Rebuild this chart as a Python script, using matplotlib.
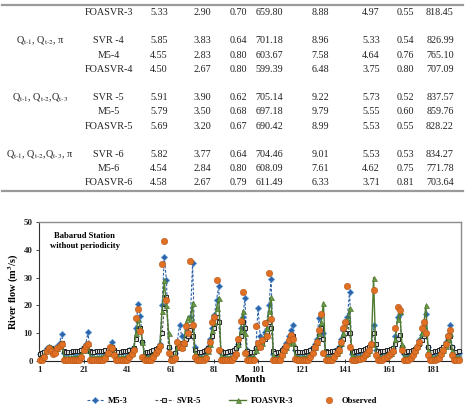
import numpy as np
import matplotlib
matplotlib.use("Agg")
import matplotlib.pyplot as plt
from matplotlib.lines import Line2D

plt.rcParams['font.family'] = ['Liberation Serif', 'DejaVu Serif']
plt.rcParams['mathtext.fontset'] = 'stix'

# ---- table (top part of the page) ----
group_labels = [r"Q$_{\text{t-1}}$, Q$_{\text{t-2}}$, π",
                r"Q$_{\text{t-1}}$, Q$_{\text{t-2}}$,Q$_{\text{t-3}}$",
                r"Q$_{\text{t-1}}$, Q$_{\text{t-2}}$,Q$_{\text{t-3}}$, π"]
model_names = ["FOASVR-3",
               "SVR -4", "M5-4", "FOASVR-4",
               "SVR -5", "M5-5", "FOASVR-5",
               "SVR -6", "M5-6", "FOASVR-6"]
table_values = [
    ["5.33", "2.90", "0.70", "659.80", "8.88", "4.97", "0.55", "818.45"],
    ["5.85", "3.83", "0.64", "701.18", "8.96", "5.33", "0.54", "826.99"],
    ["4.55", "2.83", "0.80", "603.67", "7.58", "4.64", "0.76", "765.10"],
    ["4.50", "2.67", "0.80", "599.39", "6.48", "3.75", "0.80", "707.09"],
    ["5.91", "3.90", "0.62", "705.14", "9.22", "5.73", "0.52", "837.57"],
    ["5.79", "3.50", "0.68", "697.18", "9.79", "5.55", "0.60", "859.76"],
    ["5.69", "3.20", "0.67", "690.42", "8.99", "5.53", "0.55", "828.22"],
    ["5.82", "3.77", "0.64", "704.46", "9.01", "5.53", "0.53", "834.27"],
    ["4.54", "2.84", "0.80", "608.09", "7.61", "4.62", "0.75", "771.78"],
    ["4.58", "2.67", "0.79", "611.49", "6.33", "3.71", "0.81", "703.64"],
]

# ---- monthly river flow, Babarud station ----
observed = [
    0.3, 0.5, 1.5, 3.5, 4.5, 3.5, 2.5, 3.0, 4.5, 5.5, 6.0, 0.4,
    0.2, 0.2, 0.3, 0.2, 0.2, 0.3, 0.5, 1.5, 4.0, 5.5, 6.0, 0.4,
    0.2, 0.2, 0.3, 0.2, 0.3, 0.4, 1.0, 3.0, 5.0, 4.5, 2.0, 0.3,
    0.2, 0.2, 0.3, 0.3, 0.5, 1.5, 2.5, 4.0, 15.3, 18.8, 10.8, 1.5,
    0.3, 0.2, 0.3, 0.5, 1.5, 3.0, 4.0, 5.5, 35.0, 43.0, 22.0, 3.0,
    0.3, 0.5, 1.0, 7.0, 5.0, 4.5, 6.5, 12.5, 10.0, 35.8, 13.0, 1.5,
    0.3, 0.2, 0.3, 0.4, 1.0, 4.0, 7.0, 14.0, 16.0, 29.0, 4.0, 0.4,
    0.3, 0.2, 0.3, 0.2, 0.5, 1.5, 2.5, 8.0, 14.5, 24.8, 3.0, 0.4,
    0.3, 0.2, 0.4, 12.7, 6.5, 5.0, 7.5, 13.5, 9.0, 31.5, 15.0, 0.5,
    0.3, 0.2, 0.5, 2.0, 4.0, 5.5, 7.5, 9.5, 8.0, 0.6, 0.3, 0.2,
    0.3, 0.2, 0.3, 0.5, 1.5, 3.0, 5.0, 7.0, 11.0, 17.0, 3.0, 0.4,
    0.2, 0.3, 0.5, 1.5, 3.0, 4.0, 7.0, 12.0, 14.0, 27.0, 5.0, 0.5,
    0.3, 0.4, 0.6, 0.8, 1.2, 2.0, 3.0, 4.0, 6.0, 25.5, 2.0, 0.3,
    0.3, 0.5, 1.0, 1.5, 2.0, 2.8, 3.5, 12.0, 19.5, 18.5, 4.0, 0.5,
    0.3, 0.5, 1.0, 2.0, 3.5, 5.0, 7.0, 12.0, 14.0, 10.0, 2.0, 0.4,
    0.3, 0.3, 0.6, 1.2, 2.5, 4.0, 6.0, 9.0, 11.0, 2.0, 0.4, 0.3,
    0.3,
]
m5_3 = [
    2.5, 3.0, 3.2, 4.5, 5.0, 4.5, 3.5, 4.0, 5.5, 6.5, 9.7, 3.0,
    2.8, 3.0, 3.1, 3.2, 3.0, 3.2, 3.4, 3.8, 5.0, 6.0, 10.3, 3.2,
    3.0, 3.1, 3.2, 3.2, 3.3, 3.3, 3.5, 4.0, 5.0, 6.8, 4.0, 3.0,
    3.0, 3.1, 3.2, 3.2, 3.4, 3.8, 4.2, 4.8, 12.0, 20.5, 16.3, 7.0,
    2.0, 2.5, 3.0, 3.2, 3.5, 4.0, 4.5, 6.0, 20.0, 37.3, 29.0, 4.5,
    0.5, 2.0, 3.0, 7.0, 13.0, 9.0, 6.0, 8.0, 11.0, 16.0, 35.3, 5.0,
    2.0, 2.8, 3.0, 3.2, 3.5, 5.0, 8.0, 11.8, 16.5, 22.0, 27.0, 3.0,
    2.5, 3.0, 3.1, 3.2, 3.3, 3.6, 4.5, 6.0, 12.0, 16.0, 22.5, 4.0,
    2.5, 3.0, 3.2, 4.5, 19.2, 9.0, 8.0, 10.5, 14.0, 20.0, 29.5, 2.5,
    2.0, 3.0, 3.2, 3.5, 5.0, 6.5, 9.0, 11.0, 13.0, 4.0, 2.5, 3.0,
    3.0, 3.1, 3.2, 3.3, 3.8, 4.5, 6.0, 8.0, 15.6, 13.0, 10.0, 3.0,
    3.0, 3.1, 3.2, 3.5, 4.0, 5.0, 8.0, 11.0, 14.0, 16.0, 25.0, 2.5,
    2.5, 3.0, 3.2, 3.3, 3.5, 3.8, 4.2, 5.0, 6.0, 13.0, 4.0, 2.5,
    2.8, 3.0, 3.2, 3.4, 3.6, 4.0, 4.5, 9.0, 16.0, 17.0, 5.0, 2.5,
    2.8, 3.0, 3.2, 3.5, 4.0, 5.5, 7.5, 9.5, 14.0, 17.0, 5.0, 2.8,
    2.8, 3.0, 3.2, 3.5, 4.0, 5.0, 7.0, 9.5, 13.0, 5.0, 2.8, 3.0,
    3.0,
]
svr_5 = [
    2.5, 3.0, 3.3, 4.0, 4.5, 4.5, 3.8, 3.8, 4.5, 5.5, 6.5, 3.5,
    3.2, 3.3, 3.4, 3.5, 3.5, 3.5, 3.6, 3.8, 4.5, 5.2, 6.0, 3.5,
    3.3, 3.4, 3.5, 3.5, 3.5, 3.6, 3.8, 4.0, 4.5, 5.0, 4.0, 3.4,
    3.3, 3.4, 3.5, 3.5, 3.6, 3.8, 4.0, 4.5, 8.0, 11.0, 12.0, 7.0,
    3.0, 3.2, 3.4, 3.5, 3.8, 4.2, 4.8, 5.5, 10.0, 19.0, 23.0, 5.0,
    2.0, 2.5, 3.0, 4.5, 6.0, 6.5, 6.0, 8.0, 9.0, 11.0, 9.0, 4.0,
    3.0, 3.2, 3.4, 3.5, 3.8, 4.5, 6.0, 9.0, 12.0, 16.0, 14.0, 3.5,
    3.0, 3.3, 3.4, 3.5, 3.6, 3.8, 4.5, 6.0, 9.0, 14.0, 12.0, 3.5,
    3.0, 3.2, 3.4, 4.5, 5.0, 6.0, 6.5, 8.0, 10.0, 14.0, 12.0, 3.5,
    3.0, 3.2, 3.4, 3.8, 4.5, 5.5, 7.0, 8.5, 9.0, 4.5, 3.2, 3.3,
    3.3, 3.4, 3.5, 3.6, 4.0, 4.5, 5.5, 7.0, 9.0, 12.0, 8.0, 3.5,
    3.2, 3.3, 3.5, 3.6, 4.0, 4.8, 6.0, 8.0, 10.0, 14.0, 10.0, 3.5,
    3.3, 3.5, 3.6, 3.8, 4.0, 4.2, 4.5, 5.0, 6.0, 10.0, 6.0, 3.5,
    3.3, 3.5, 3.6, 3.8, 4.0, 4.2, 4.8, 6.0, 8.0, 9.5, 5.0, 3.4,
    3.3, 3.5, 3.6, 3.8, 4.2, 5.0, 6.0, 7.5, 9.0, 10.0, 5.0, 3.4,
    3.3, 3.5, 3.6, 3.8, 4.2, 5.0, 6.0, 7.5, 9.0, 5.0, 3.3, 3.4,
    3.5,
]
foasvr_3 = [
    1.0, 1.5, 2.5, 4.0, 5.5, 5.0, 3.5, 3.5, 4.5, 5.5, 6.5, 1.5,
    1.2, 1.3, 1.4, 1.5, 1.5, 1.6, 1.8, 2.5, 4.0, 5.0, 6.5, 1.5,
    1.3, 1.4, 1.5, 1.5, 1.6, 1.7, 2.0, 3.0, 4.5, 5.5, 3.0, 1.5,
    1.3, 1.4, 1.5, 1.5, 1.7, 2.0, 3.0, 4.5, 10.0, 15.0, 12.0, 7.0,
    1.5, 1.4, 1.5, 1.8, 2.5, 3.5, 4.5, 6.0, 18.0, 29.0, 20.0, 10.0,
    1.0, 1.5, 2.0, 5.0, 6.0, 5.0, 6.5, 14.0, 16.0, 15.0, 21.0, 3.0,
    1.0, 1.3, 1.5, 1.6, 2.0, 3.5, 6.0, 11.0, 14.0, 19.0, 22.8, 2.0,
    1.2, 1.3, 1.4, 1.5, 1.6, 2.0, 3.0, 6.0, 11.0, 18.0, 10.0, 1.5,
    1.2, 1.4, 1.6, 4.0, 6.0, 5.5, 6.5, 9.0, 12.0, 18.0, 23.0, 2.0,
    1.2, 1.4, 1.6, 2.5, 4.0, 5.0, 6.5, 7.6, 7.0, 2.0, 1.3, 1.4,
    1.4, 1.5, 1.6, 1.8, 2.5, 3.5, 5.0, 7.0, 10.0, 14.0, 21.0, 1.5,
    1.3, 1.5, 1.6, 2.0, 3.0, 4.0, 6.5, 10.0, 13.0, 15.0, 19.0, 2.0,
    1.4, 1.5, 1.6, 1.8, 2.0, 2.5, 3.0, 4.0, 6.0, 30.0, 3.0, 1.5,
    1.4, 1.5, 1.8, 2.2, 2.6, 3.0, 3.8, 8.0, 15.0, 18.0, 6.0, 1.5,
    1.4, 1.6, 2.0, 2.8, 4.0, 5.5, 7.0, 10.0, 13.0, 20.0, 4.0, 1.5,
    1.4, 1.5, 1.8, 2.2, 3.0, 4.0, 5.5, 8.0, 10.0, 4.0, 1.5, 1.4,
    1.5,
]
months = np.arange(1, len(observed) + 1)
month_ticks = [1, 21, 41, 61, 81, 101, 121, 141, 161, 181]

W, H = 466, 415
fig = plt.figure(figsize=(W / 100, H / 100), dpi=100)

def fx(px):
    return px / W

def fy(py):
    return 1 - py / H

# table rules
for yy in (4.7, 190.7):
    fig.add_artist(Line2D([fx(2), fx(463)], [fy(yy), fy(yy)], color="#9a9a9a", lw=1.6))

row_y = [12.7, 40.7, 55.0, 69.3, 97.3, 111.7, 126.0, 154.3, 168.3, 182.7]
group_y = [40.7, 97.3, 154.3]
col_x = [159, 202, 238, 269, 320, 371, 405, 440]
tfs = 7.3
for lab, yy in zip(group_labels, group_y):
    fig.text(fx(40), fy(yy), lab, ha="center", va="center", fontsize=tfs, color="#222222")
for name, vals, yy in zip(model_names, table_values, row_y):
    fig.text(fx(108.5), fy(yy), name, ha="center", va="center", fontsize=tfs, color="#222222")
    for v, xx in zip(vals, col_x):
        fig.text(fx(xx), fy(yy), v, ha="center", va="center", fontsize=tfs, color="#222222")

# ---- chart ----
ax = fig.add_axes([fx(39), fy(361), fx(461) - fx(39), fy(222) - fy(361)])

ax.plot(months, m5_3, color="#2f62a8", ls=(0, (2.5, 1.5)), lw=0.8, marker="D",
        ms=3.2, mfc="#2f62a8", mec="#5b9bd5", mew=0.5, label="M5-3", clip_on=False, zorder=3)
ax.plot(months, svr_5, color="#555555", ls=(0, (2.5, 1.5)), lw=0.8, marker="s",
        ms=3.0, mfc="#d9d9d9", mec="#222222", mew=0.7, label="SVR-5", clip_on=False, zorder=3)
ax.plot(months, foasvr_3, color="#4f7a32", ls="-", lw=1.0, marker="^",
        ms=3.6, mfc="#6a9a45", mec="#4f7a32", mew=0.5, label="FOASVR-3", clip_on=False, zorder=4)
ax.plot(months, observed, ls="none", marker="o", ms=4.6, mfc="#e07024",
        mec="#b5561a", mew=0.4, label="Observed", clip_on=False, zorder=5)

ax.set_xlim(0.55, 194.1)
ax.set_ylim(0, 50)
ax.set_xticks(month_ticks)
ax.set_yticks(range(0, 51, 10))
ax.tick_params(axis="both", labelsize=6.4, length=2.5, width=0.6, pad=2, colors="#222222")
ax.tick_params(axis="x", direction="inout", length=3)
for lbl in ax.get_xticklabels() + ax.get_yticklabels():
    lbl.set_fontweight("bold")

for s in ("top", "right"):
    ax.spines[s].set_color("#8c8c8c")
    ax.spines[s].set_linewidth(1.0)
ax.spines["left"].set_color("#333333")
ax.spines["left"].set_linewidth(0.8)
ax.spines["bottom"].set_color("#222222")
ax.spines["bottom"].set_linewidth(0.8)

ax.set_xlabel("Month", fontsize=7.8, fontweight="bold", labelpad=1)
ax.set_ylabel(r"River flow (m$^{\mathbf{3}}$/s)", fontsize=7.4, fontweight="bold", labelpad=2)
ax.text(0.108, 0.93, "Babarud Station\nwithout periodicity", transform=ax.transAxes,
        ha="center", va="top", fontsize=6.2, fontweight="bold", linespacing=1.3)

fig.legend(loc="center", bbox_to_anchor=(fx(232), fy(401)), ncol=4, frameon=False,
           prop={"size": 6.2, "weight": "bold"}, handlelength=2.0, handletextpad=0.5,
           columnspacing=3.2, borderaxespad=0)

fig.savefig("out.png", dpi=100)
